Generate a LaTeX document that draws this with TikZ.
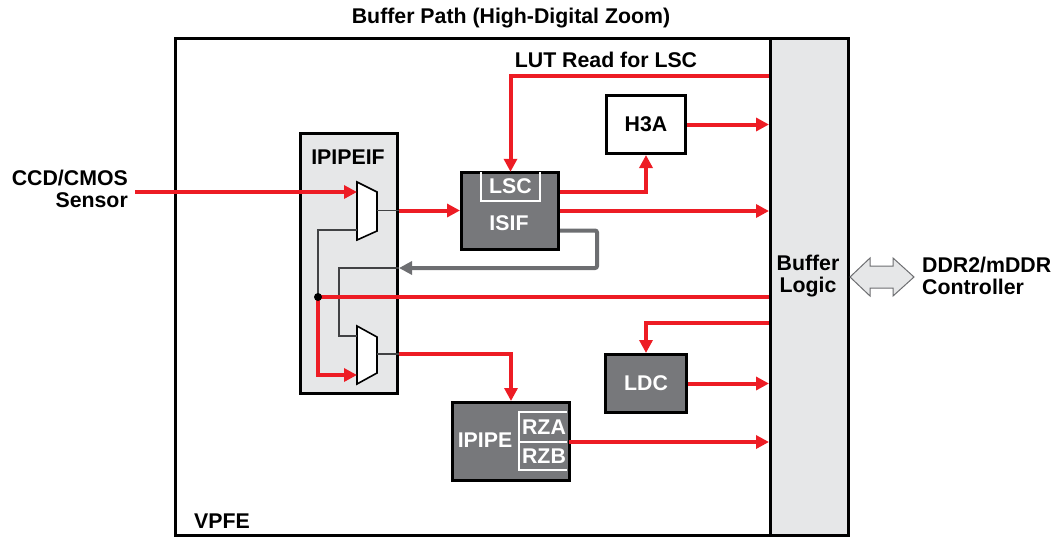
\documentclass[tikz,border=0pt]{standalone}
\usepackage{fontspec}
\setmainfont{Liberation Sans}
\usetikzlibrary{arrows.meta}
\definecolor{tired}{HTML}{ED1C24}
\definecolor{lgray}{HTML}{E6E7E8}
\definecolor{dgray}{HTML}{77787B}
\definecolor{ggray}{HTML}{6D6E71}
\begin{document}
\begin{tikzpicture}[x=1pt,y=-1pt,
  font=\fontsize{21.3}{22.5}\selectfont\bfseries,
  box/.style={draw=black,line width=3pt,inner sep=0pt,anchor=north west},
  txt/.style={inner sep=0pt,align=center},
  wtxt/.style={txt,text=white},
  redl/.style={draw=tired,line width=4pt},
  redarr/.style={redl,-{Triangle[length=13pt,width=13pt]}},
  grayarr/.style={draw=ggray,line width=4pt,rounded corners=2pt,-{Triangle[length=13pt,width=13pt]}},
  thin/.style={draw=ggray!60!black,line width=1.2pt},
  wline/.style={draw=white,line width=1.6pt},
  muxst/.style={draw=black,line width=1.6pt,fill=white,line join=miter}]
\useasboundingbox (0,0) rectangle (1057,538);

% frames
\node[box,minimum width=673pt,minimum height=497pt] (vpfe) at (174,37) {};
\node[box,fill=lgray,minimum width=78pt,minimum height=497pt] (buf) at (769,37) {};
\node[box,fill=lgray,minimum width=97pt,minimum height=260pt] (ipipeif) at (299,132) {};
\node[box,fill=dgray,minimum width=97pt,minimum height=77pt] (isif) at (460,171) {};
\node[box,fill=white,minimum width=79pt,minimum height=58pt] (h3a) at (605,94) {};
\node[box,fill=dgray,minimum width=81pt,minimum height=58pt] (ldc) at (604,353) {};
\node[box,fill=dgray,minimum width=117pt,minimum height=78pt] (ipipe) at (451,401) {};

% texts
\node[txt] (title) at (511,18) {Buffer Path (High-Digital Zoom)};
\node[txt] (lut) at (606,60) {LUT Read for LSC};
\node[txt] (vpfet) at (222,521) {VPFE};
\node[txt] (ipipeift) at (348,157) {IPIPEIF};
\node[txt,anchor=east,align=right] (sensor) at (128,189) {CCD/CMOS\\Sensor};
\node[txt,anchor=west,align=left] (ddr) at (922,276) {DDR2/mDDR\\Controller};
\node[txt] (buft) at (808,276) {Buffer\\Logic};
\node[txt] (h3at) at (h3a.center) {H3A};
\node[wtxt] (ldct) at (ldc.center) {LDC};
\node[wtxt,minimum width=59pt,minimum height=29pt] (lsc) at (510.5,186.5) {LSC};
\draw[wline] (lsc.north west) -- (lsc.south west) -- (lsc.south east) -- (lsc.north east);
\node[wtxt] (isift) at (509,223) {ISIF};
\node[wtxt] (ipipet) at (485,440) {IPIPE};
\node[wtxt,minimum width=50pt,minimum height=30pt] (rza) at (544,427) {RZA};
\node[wtxt,minimum width=50pt,minimum height=28pt] (rzb) at (544,456) {RZB};
\draw[wline] (567,412) -- (519,412) -- (519,470) -- (567,470);
\draw[wline] (519,442) -- (567,442);

% muxes
\draw[muxst] (357,182) -- (377,192) -- (377,231) -- (357,240) -- cycle;
\draw[muxst] (357,326) -- (377,337) -- (377,373) -- (357,384) -- cycle;
\coordinate (m1in) at (357,192);
\coordinate (m1sel) at (357,230);
\coordinate (m1out) at (377,210.5);
\coordinate (m2in) at (357,336);
\coordinate (m2red) at (357,375);
\coordinate (m2out) at (377,354);
\coordinate (dot) at (318,297);
\coordinate (j2) at (339,268);
\coordinate (loopc) at (597,268);
\coordinate (rzout) at (569,442);

% thin internal lines
\draw[thin] (m1out) -- (m1out -| ipipeif.east);
\draw[thin] (m2out) -- (m2out -| ipipeif.east);
\draw[thin] (dot) -- (dot |- m1sel) -- (m1sel);
\draw[thin] (loopc -| ipipeif.east) -- (j2) -- (j2 |- m2in) -- (m2in);

% connectors
\draw[redarr] ([xshift=7pt]sensor.east |- m1in) -- (m1in);
\draw[redarr] (m1out -| ipipeif.east) -- (m1out -| isif.west);
\draw[redarr] ([yshift=19pt]isif.east) -| (h3a.south);
\draw[redarr] (isif.east) -- (buf.west |- isif.east);
\draw[grayarr] ([yshift=-19.5pt]isif.east) -| (loopc) -- (loopc -| ipipeif.east);
\draw[redarr] (buf.west |- 0,76) -| (lsc.north);
\draw[redarr] (h3a.east) -- (buf.west |- h3a.east);
\draw[redarr] (buf.west |- dot) -- (dot) -- (dot |- m2red) -- (m2red);
\fill (dot) circle (4pt);
\draw[redarr] (m2out -| ipipeif.east) -| (ipipe.north);
\draw[redarr] (buf.west |- 0,323) -| (ldc.north);
\draw[redarr] (ldc.east) -- (buf.west |- ldc.east);
\draw[redarr] (rzout) -- (buf.west |- rzout);

% double arrow
\draw[draw=ggray,fill=lgray,line width=1pt,line join=miter]
  (buf.east |- 0,277) -- ++(20,-19) -- ++(0,8) -- ++(23,0) -- ++(0,-8)
  -- ++(21,19) -- ++(-21,19) -- ++(0,-8) -- ++(-23,0) -- ++(0,8) -- cycle;
\end{tikzpicture}
\end{document}
